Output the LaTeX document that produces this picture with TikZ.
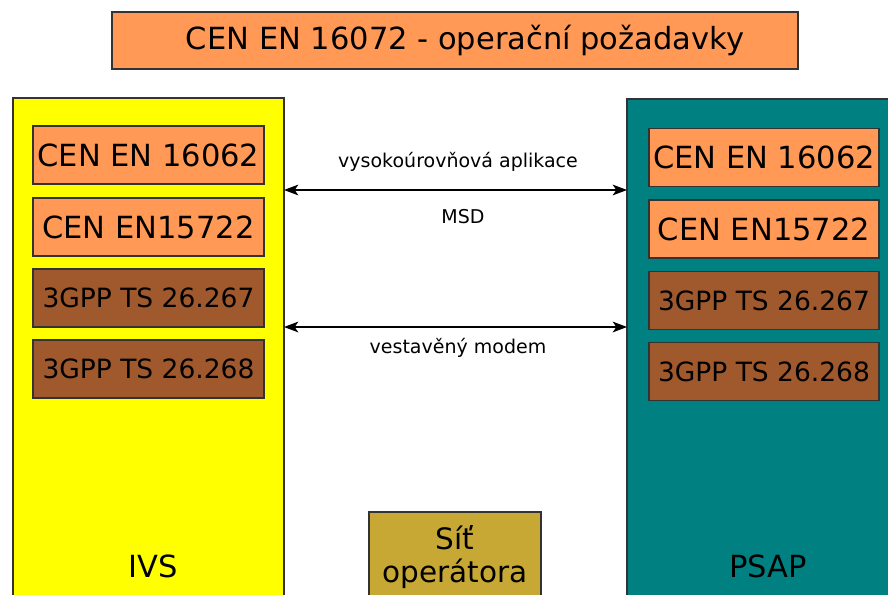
\documentclass[tikz,border=0pt]{standalone}
\usepackage{fontspec}
\setmainfont{DejaVu Sans}
\usetikzlibrary{arrows.meta}
\definecolor{orng}{HTML}{FF9955}
\definecolor{brwn}{HTML}{A0582D}
\definecolor{gld}{HTML}{C8A834}
\definecolor{teal2}{HTML}{008080}
\definecolor{yel}{HTML}{FFFF00}
\definecolor{edge}{HTML}{333333}
\tikzset{
  panel/.style={draw=edge, line width=1.3pt, inner sep=0pt, rectangle},
  stdbox/.style={panel, fill=orng, minimum width=231pt, minimum height=58pt, font=\fontsize{30.5}{34}\selectfont},
  gppbox/.style={panel, fill=brwn, minimum width=231pt, minimum height=58pt, font=\fontsize{26.5}{30}\selectfont},
  biglabel/.style={inner sep=0pt, anchor=base, font=\fontsize{30.5}{34}\selectfont},
  smalllabel/.style={inner sep=0pt, anchor=base, font=\fontsize{19}{22}\selectfont},
  link/.style={line width=1.1pt, >={Stealth[scale=1.8,inset=2pt]}, <->}
}
\begin{document}
\begin{tikzpicture}[x=1pt,y=-1pt]
\useasboundingbox (0,0) rectangle (888,594);
\fill[white] (0,0) rectangle (888,594);
\clip (0,0) rectangle (888,594);

% title
\node[panel, fill=orng, minimum width=686pt, minimum height=57pt] (title) at (455,40.5) {};
\node[inner sep=0pt, font=\fontsize{30.5}{34}\selectfont] (titletext) at (465,40) {CEN EN 16072 - operační požadavky};

% IVS panel
\node[panel, fill=yel, minimum width=271pt, minimum height=530pt] (ivs) at (148.5,363) {};
\node[stdbox] (i1) at (148.5,155) {CEN EN 16062};
\node[stdbox] (i2) at (148.5,227) {CEN EN15722};
\node[gppbox] (i3) at (148.5,298) {3GPP TS 26.267};
\node[gppbox] (i4) at (148.5,369) {3GPP TS 26.268};
\node[biglabel] (ivslabel) at (153,577) {IVS};

% PSAP panel
\node[panel, fill=teal2, minimum width=280pt, minimum height=530pt] (psap) at (767,364) {};
\node[stdbox, minimum width=230pt] (p1) at (764,157.5) {CEN EN 16062};
\node[stdbox, minimum width=230pt] (p2) at (764,229) {CEN EN15722};
\node[gppbox, minimum width=230pt] (p3) at (764,300.5) {3GPP TS 26.267};
\node[gppbox, minimum width=230pt] (p4) at (764,371.5) {3GPP TS 26.268};
\node[biglabel] (psaplabel) at (768,577) {PSAP};

% operator network
\node[panel, fill=gld, minimum width=172pt, minimum height=110pt] (net) at (455,567) {};
\node[biglabel, font=\fontsize{29.5}{32}\selectfont] (net1) at (455,549) {Síť};
\node[biglabel, font=\fontsize{29.5}{32}\selectfont] (net2) at (455,582) {operátora};

% connectors
\coordinate (a1l) at (284,190);
\coordinate (a1r) at (627,190);
\coordinate (a2l) at (284,327);
\coordinate (a2r) at (627,327);
\draw[link] (a1l) -- (a1r);
\draw[link] (a2l) -- (a2r);
\node[smalllabel] (lab1) at (458,167) {vysokoúrovňová aplikace};
\node[smalllabel] (lab2) at (463,223) {MSD};
\node[smalllabel] (lab3) at (458,353) {vestavěný modem};
\end{tikzpicture}
\end{document}
